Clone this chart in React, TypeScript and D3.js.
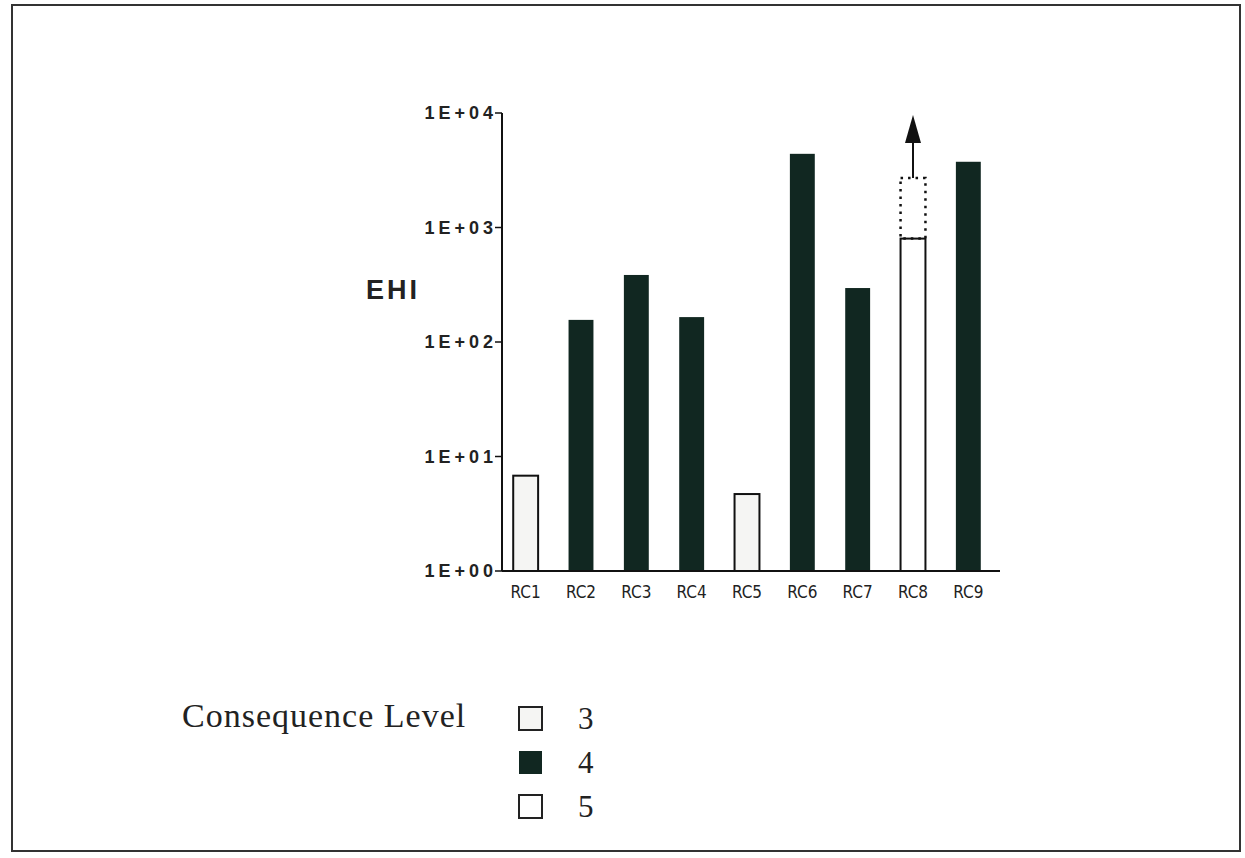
import React, { useEffect, useRef } from 'react';
import * as d3 from 'd3';

const categories = ['RC1', 'RC2', 'RC3', 'RC4', 'RC5', 'RC6', 'RC7', 'RC8', 'RC9'];
const ehiValues = [6.8, 156, 385, 165, 4.7, 4400, 296, 800, 3750];
const consequenceLevel = [3, 4, 4, 4, 3, 4, 4, 5, 4];
// RC8 has an upper estimate drawn as a dotted box plus an arrow
const upperEstimate = [null, null, null, null, null, null, null, 2700, null];
const yTicks = [1, 10, 100, 1000, 10000];
const yTickLabels = ['1E+00', '1E+01', '1E+02', '1E+03', '1E+04'];
const legendLevels = [3, 4, 5];

const fillFor: Record<number, string> = { 3: '#f5f5f3', 4: '#112721', 5: '#ffffff' };

const App: React.FC = () => {
  const ref = useRef<SVGSVGElement | null>(null);

  useEffect(() => {
    if (!ref.current) return;
    const svg = d3.select(ref.current);
    svg.selectAll('*').remove();

    const width = 1245;
    const height = 858;
    svg.attr('viewBox', `0 0 ${width} ${height}`);

    svg.append('rect').attr('width', width).attr('height', height).attr('fill', '#fff');

    // page frame
    svg.append('rect')
      .attr('x', 12).attr('y', 5)
      .attr('width', 1228).attr('height', 846)
      .attr('fill', 'none')
      .attr('stroke', '#333')
      .attr('stroke-width', 2);

    const x = d3.scaleBand<string>()
      .domain(categories)
      .range([498, 996])
      .paddingInner(0.55)
      .paddingOuter(0.275);

    const y = d3.scaleLog()
      .domain([1, 10000])
      .range([571, 113]);

    const axisLeft = 502;
    const axisRight = 1000;

    const g = svg.append('g');

    // bars
    categories.forEach((c, i) => {
      const v = ehiValues[i];
      const lvl = consequenceLevel[i];
      g.append('rect')
        .attr('x', x(c)!)
        .attr('y', y(v))
        .attr('width', x.bandwidth())
        .attr('height', y(1) - y(v))
        .attr('fill', fillFor[lvl])
        .attr('stroke', lvl === 4 ? 'none' : '#111')
        .attr('stroke-width', 2);

      const up = upperEstimate[i];
      if (up != null) {
        g.append('rect')
          .attr('x', x(c)!)
          .attr('y', y(up))
          .attr('width', x.bandwidth())
          .attr('height', y(v) - y(up))
          .attr('fill', 'none')
          .attr('stroke', '#111')
          .attr('stroke-width', 2.5)
          .attr('stroke-dasharray', '2.5,5');
        const cx = x(c)! + x.bandwidth() / 2;
        const tip = y(10000) + 2;
        g.append('line')
          .attr('x1', cx).attr('x2', cx)
          .attr('y1', y(up)).attr('y2', tip + 20)
          .attr('stroke', '#111')
          .attr('stroke-width', 2);
        g.append('path')
          .attr('d', `M${cx},${tip} L${cx - 8},${tip + 28} L${cx + 8},${tip + 28} Z`)
          .attr('fill', '#111');
      }
    });

    // y axis
    g.append('line')
      .attr('x1', axisLeft).attr('x2', axisLeft)
      .attr('y1', y(10000)).attr('y2', y(1))
      .attr('stroke', '#111').attr('stroke-width', 2);

    yTicks.forEach((t, i) => {
      g.append('line')
        .attr('x1', axisLeft - 7).attr('x2', axisLeft)
        .attr('y1', y(t)).attr('y2', y(t))
        .attr('stroke', '#111').attr('stroke-width', 1.5);
      g.append('text')
        .attr('x', axisLeft - 5)
        .attr('y', y(t) + 6)
        .attr('text-anchor', 'end')
        .attr('font-family', 'Liberation Sans, Arial, sans-serif')
        .attr('font-weight', 'bold')
        .attr('font-size', 18)
        .attr('letter-spacing', 4)
        .attr('fill', '#222')
        .text(yTickLabels[i]);
    });

    // x axis
    g.append('line')
      .attr('x1', axisLeft).attr('x2', axisRight)
      .attr('y1', y(1)).attr('y2', y(1))
      .attr('stroke', '#111').attr('stroke-width', 2);

    categories.forEach(c => {
      g.append('text')
        .attr('x', x(c)! + x.bandwidth() / 2)
        .attr('y', 598)
        .attr('text-anchor', 'middle')
        .attr('font-family', 'Liberation Sans Narrow, DejaVu Sans Condensed, Arial, sans-serif')
        .attr('font-size', 17)
        .attr('fill', '#222')
        .text(c);
    });

    // y label
    svg.append('text')
      .attr('x', 366)
      .attr('y', 299)
      .attr('font-family', 'Liberation Sans, Arial, sans-serif')
      .attr('font-weight', 'bold')
      .attr('font-size', 27)
      .attr('letter-spacing', 3)
      .attr('fill', '#222')
      .text('EHI');

    // legend
    svg.append('text')
      .attr('x', 182)
      .attr('y', 727)
      .attr('font-family', 'Liberation Serif, Times New Roman, serif')
      .attr('font-size', 34)
      .attr('letter-spacing', 1)
      .attr('fill', '#222')
      .text('Consequence Level');

    legendLevels.forEach((lvl, i) => {
      const ly = 707 + i * 44;
      svg.append('rect')
        .attr('x', 519).attr('y', ly)
        .attr('width', 23).attr('height', 23)
        .attr('fill', fillFor[lvl])
        .attr('stroke', lvl === 4 ? 'none' : '#222')
        .attr('stroke-width', 2);
      svg.append('text')
        .attr('x', 578)
        .attr('y', ly + 22)
        .attr('font-family', 'Liberation Serif, Times New Roman, serif')
        .attr('font-size', 31)
        .attr('fill', '#222')
        .text(String(lvl));
    });
  }, []);

  return (
    <svg
      ref={ref}
      width={1245}
      height={858}
      style={{ position: 'absolute', left: 0, top: 0, display: 'block' }}
    />
  );
};

export default App;
